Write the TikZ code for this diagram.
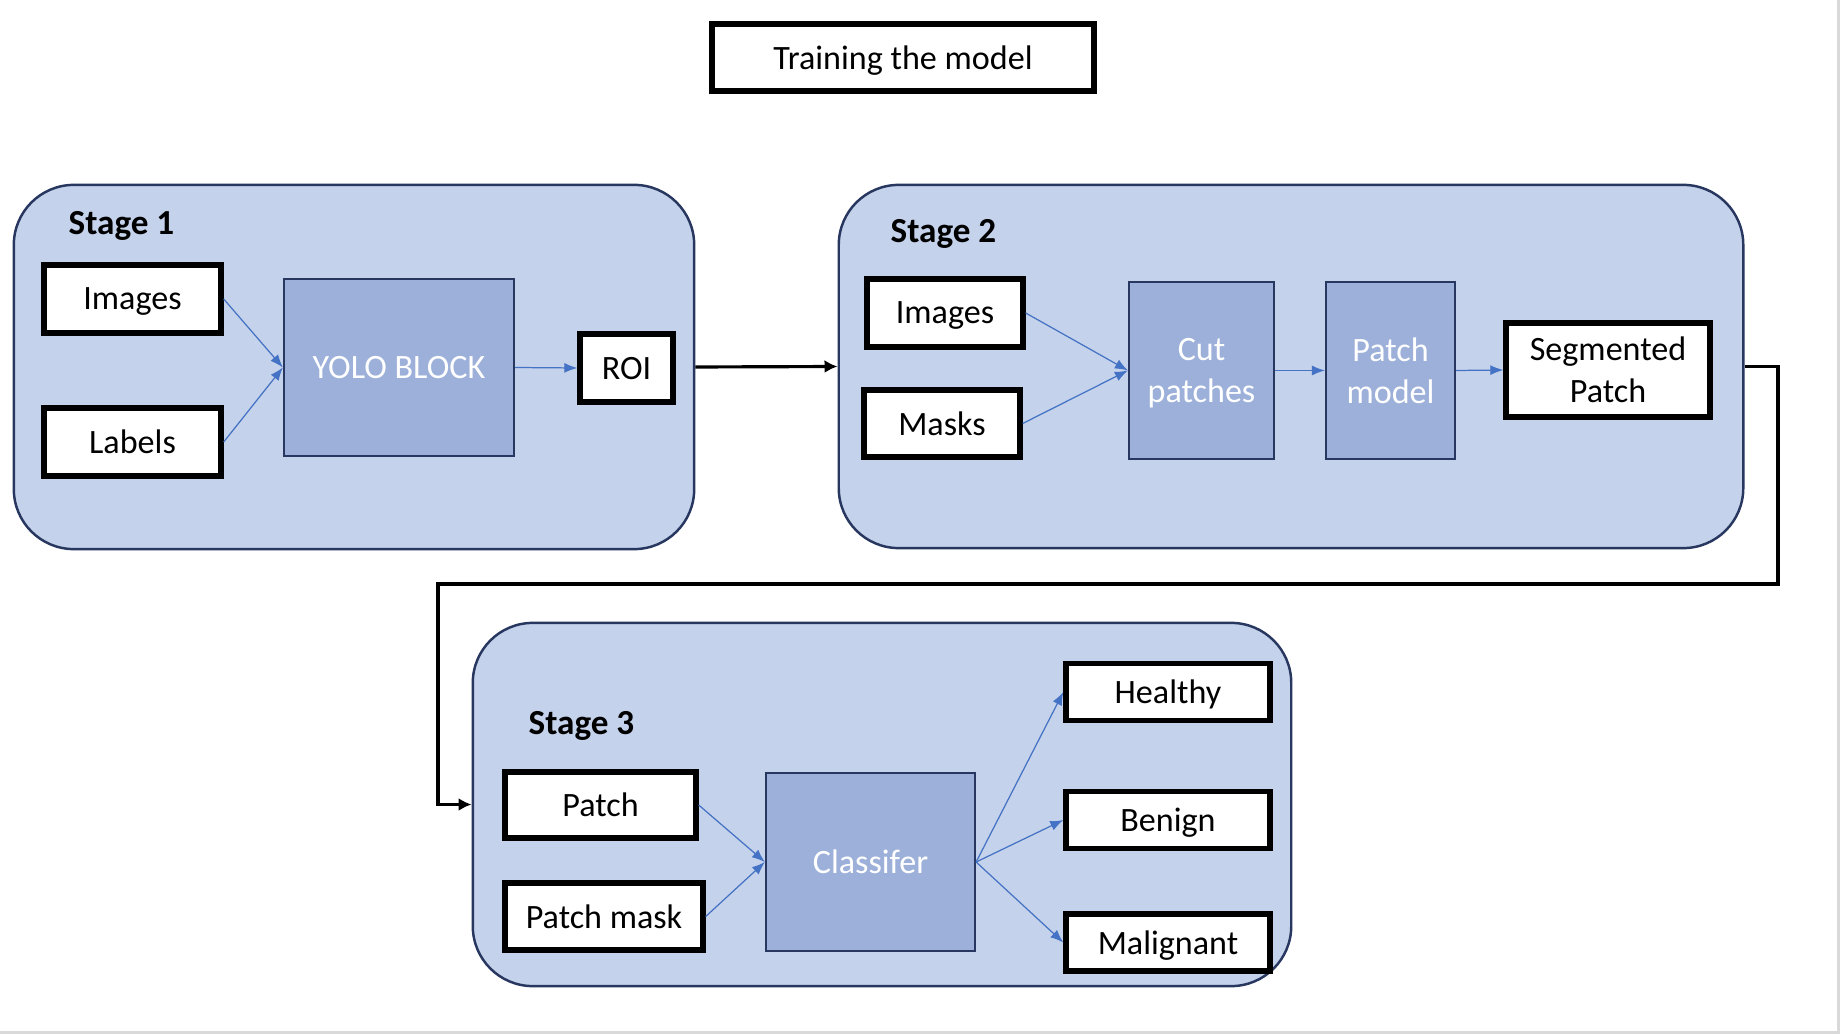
\documentclass[tikz,border=0pt]{standalone}
\usepackage{fontspec}
\setmainfont{Carlito}
\usepackage{tikz}
\usetikzlibrary{arrows.meta}
\definecolor{stagefill}{RGB}{197,210,235}
\definecolor{blockfill}{RGB}{156,176,217}
\definecolor{navyline}{RGB}{40,55,95}
\definecolor{arrowblue}{RGB}{68,114,196}
\definecolor{framegray}{RGB}{217,217,217}
\tikzset{
	stagebox/.style={draw=navyline, line width=0.7pt, fill=stagefill, rounded corners=0.6cm, inner sep=0},
	blockbox/.style={draw=navyline, line width=0.6pt, fill=blockfill, text=white, align=center, inner sep=0, text depth=0pt},
	whitebox/.style={draw=black, line width=1.5pt, fill=white, align=center, inner sep=0, text depth=0pt},
	stagelabel/.style={font=\bfseries, anchor=west, inner sep=0, text depth=0pt},
	feed/.style={draw=arrowblue, line width=0.35pt, -{Latex[length=0.13cm,width=0.1cm]}},
	flow/.style={draw=black, line width=0.9pt, -{Latex[length=0.13cm,width=0.13cm]}},
}

\begin{document}
\begin{tikzpicture}[x=0.01cm,y=-0.01cm,font=\fontsize{9.7}{12}\selectfont]
		\useasboundingbox (0,0) rectangle (1840,1034);
		\draw[framegray,line width=0.9pt] (0,1032.5)--(1838.5,1032.5)--(1838.5,0);
		\node (title) [whitebox, line width=1.7pt, minimum width=3.82cm, minimum height=0.67cm, at={(903,57.5)}] {Training the model};
		% stage 1
		\node (stage1) [stagebox, minimum width=6.8cm, minimum height=3.64cm, at={(354,367)}] {};
		\node (s1lab) [stagelabel, at={(68,223)}] {Stage 1};
		\node (img1) [whitebox, minimum width=1.77cm, minimum height=0.68cm, at={(132.5,299)}] {Images};
		\node (lab) [whitebox, minimum width=1.77cm, minimum height=0.68cm, at={(132.5,442)}] {Labels};
		\node (yolo) [blockbox, minimum width=2.3cm, minimum height=1.77cm, at={(399,367.5)}] {YOLO BLOCK};
		\node (roi) [whitebox, minimum width=0.93cm, minimum height=0.68cm, at={(626.5,368)}] {ROI};
		\draw[feed] (img1.east)--(yolo.west);
		\draw[feed] (lab.east)--(yolo.west);
		\draw[feed] (yolo.east)--(roi.west);
		% stage 2
		\node (stage2) [stagebox, minimum width=9.04cm, minimum height=3.63cm, at={(1291,366.5)}] {};
		\node (s2lab) [stagelabel, at={(890,231)}] {Stage 2};
		\node (img2) [whitebox, minimum width=1.56cm, minimum height=0.68cm, at={(945,313)}] {Images};
		\node (masks) [whitebox, minimum width=1.56cm, minimum height=0.67cm, at={(942,423.5)}] {Masks};
		\node (cut) [blockbox, minimum width=1.45cm, minimum height=1.77cm, at={(1201.5,370.5)}] {Cut\\patches};
		\node (pmodel) [blockbox, minimum width=1.29cm, minimum height=1.77cm, at={(1390.5,370.5)}] {Patch\\model};
		\node (seg) [whitebox, minimum width=2.04cm, minimum height=0.94cm, at={(1608,370)}] {Segmented\\Patch};
		\draw[feed] (img2.east)--(cut.west);
		\draw[feed] (masks.east)--(cut.west);
		\draw[feed] (cut.east)--(pmodel.west);
		\draw[feed] (pmodel.east)--(seg.west);
		% stage 3
		\node (stage3) [stagebox, minimum width=8.18cm, minimum height=3.63cm, at={(882,804.5)}] {};
		\node (s3lab) [stagelabel, at={(528,723)}] {Stage 3};
		\node (patch) [whitebox, minimum width=1.91cm, minimum height=0.66cm, at={(600.5,805)}] {Patch};
		\node (pmask) [whitebox, minimum width=1.98cm, minimum height=0.67cm, at={(604,916.5)}] {Patch mask};
		\node (clf) [blockbox, minimum width=2.09cm, minimum height=1.78cm, at={(870.5,862)}] {Classifer};
		\node (healthy) [whitebox, minimum width=2.04cm, minimum height=0.57cm, at={(1168,692)}] {Healthy};
		\node (benign) [whitebox, minimum width=2.04cm, minimum height=0.57cm, at={(1168,820)}] {Benign};
		\node (malig) [whitebox, minimum width=2.04cm, minimum height=0.57cm, at={(1168,942.5)}] {Malignant};
		\draw[feed] (patch.east)--(clf.west);
		\draw[feed] (pmask.east)--(clf.west);
		\draw[feed] (clf.east)--(healthy.west);
		\draw[feed] (clf.east)--(benign.west);
		\draw[feed] (clf.east)--(malig.west);
		% stage links
		\coordinate (bendA) at (1778,584);
		\coordinate (bendB) at (438,584);
		\draw[flow] (stage1.east)--(stage2.west);
		\draw[flow] (stage2.east)-|(bendA)--(bendB)|-(stage3.west);
\end{tikzpicture}
\end{document}
